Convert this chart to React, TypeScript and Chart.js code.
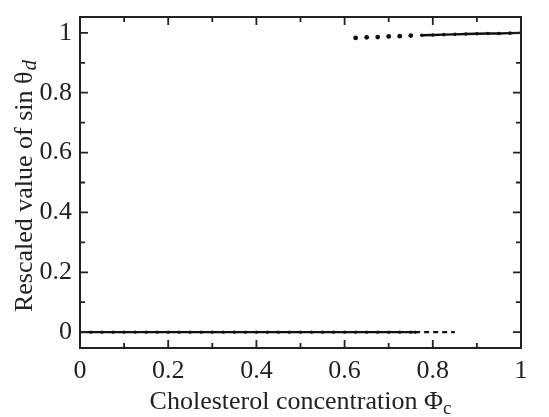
import { useEffect, useRef } from 'react';
import { Chart, registerables } from 'chart.js';
Chart.register(...registerables);

const lowerSolidX = [0, 0.025, 0.05, 0.075, 0.1, 0.125, 0.15, 0.175, 0.2, 0.225, 0.25, 0.275, 0.3, 0.325, 0.35, 0.375, 0.4, 0.425, 0.45, 0.475, 0.5, 0.525, 0.55, 0.575, 0.6, 0.625, 0.65, 0.675, 0.7, 0.725, 0.75, 0.76];
const lowerSolidY = [0, 0, 0, 0, 0, 0, 0, 0, 0, 0, 0, 0, 0, 0, 0, 0, 0, 0, 0, 0, 0, 0, 0, 0, 0, 0, 0, 0, 0, 0, 0, 0];
const lowerDashX = [0.76, 0.8, 0.85];
const lowerDashY = [0, 0, 0];
const upperDotX = [0.625, 0.65, 0.675, 0.7, 0.725, 0.75];
const upperDotY = [0.983, 0.985, 0.986, 0.988, 0.989, 0.991];
const upperSolidX = [0.775, 0.8, 0.825, 0.85, 0.875, 0.9, 0.925, 0.95, 0.975, 1.0];
const upperSolidY = [0.992, 0.993, 0.994, 0.995, 0.996, 0.997, 0.998, 0.998, 0.999, 1.0];
const xMajorTicks = [0, 0.2, 0.4, 0.6, 0.8, 1];
const yMajorTicks = [0, 0.2, 0.4, 0.6, 0.8, 1];
const xMinorTicks = [0.1, 0.3, 0.5, 0.7, 0.9];
const yMinorTicks = [0.1, 0.3, 0.5, 0.7, 0.9];

const FONT = '"Liberation Serif", "Times New Roman", serif';

const zip = (xs: number[], ys: number[]) => xs.map((x, i) => ({ x, y: ys[i] }));

const framePlugin = {
  id: 'frameTicks',
  afterDraw(chart: any) {
    const { ctx, chartArea } = chart;
    const { left, right, top, bottom } = chartArea;
    const xs = chart.scales.x;
    const ys = chart.scales.y;
    ctx.save();
    ctx.strokeStyle = '#222';
    ctx.lineWidth = 2;
    ctx.strokeRect(left, top, right - left, bottom - top);
    const major = 8, minor = 5;
    ctx.lineWidth = 1.8;
    ctx.beginPath();
    const xt = (v: number, len: number) => {
      const p = xs.getPixelForValue(v);
      ctx.moveTo(p, bottom); ctx.lineTo(p, bottom - len);
      ctx.moveTo(p, top); ctx.lineTo(p, top + len);
    };
    const yt = (v: number, len: number) => {
      const p = ys.getPixelForValue(v);
      ctx.moveTo(left, p); ctx.lineTo(left + len, p);
      ctx.moveTo(right, p); ctx.lineTo(right - len, p);
    };
    xMajorTicks.forEach(v => xt(v, major));
    xMinorTicks.forEach(v => xt(v, minor));
    yMajorTicks.forEach(v => yt(v, major));
    yMinorTicks.forEach(v => yt(v, minor));
    ctx.stroke();

    // x title
    ctx.fillStyle = '#222';
    ctx.textBaseline = 'alphabetic';
    ctx.textAlign = 'left';
    const main = 'Cholesterol concentration Φ';
    ctx.font = `26px ${FONT}`;
    const w1 = ctx.measureText(main).width;
    ctx.font = `19px ${FONT}`;
    const w2 = ctx.measureText('c').width;
    const cx = (left + right) / 2;
    const startX = cx - (w1 + w2) / 2;
    const baseY = 409;
    ctx.font = `26px ${FONT}`;
    ctx.fillText(main, startX, baseY);
    ctx.font = `19px ${FONT}`;
    ctx.fillText('c', startX + w1, baseY + 5);

    // y title
    ctx.save();
    const cy = (top + bottom) / 2 + 4;
    ctx.translate(32, cy);
    ctx.rotate(-Math.PI / 2);
    const ymain = 'Rescaled value of sin θ';
    ctx.font = `26px ${FONT}`;
    const yw1 = ctx.measureText(ymain).width;
    ctx.font = `italic 21px ${FONT}`;
    const yw2 = ctx.measureText('d').width;
    const sx = -(yw1 + yw2) / 2;
    ctx.font = `26px ${FONT}`;
    ctx.fillText(ymain, sx, 0);
    ctx.font = `italic 21px ${FONT}`;
    ctx.fillText('d', sx + yw1 + 1, 4);
    ctx.restore();

    ctx.restore();
  },
};

export default function App() {
  const ref = useRef<HTMLCanvasElement>(null);
  useEffect(() => {
    if (!ref.current) return;
    const chart = new Chart(ref.current, {
      type: 'scatter',
      data: {
        datasets: [
          {
            data: zip(lowerSolidX, lowerSolidY),
            showLine: true,
            borderColor: '#111',
            backgroundColor: '#111',
            borderWidth: 2.2,
            pointRadius: 1.7,
            pointBorderWidth: 0,
          },
          {
            data: zip(lowerDashX, lowerDashY),
            showLine: true,
            borderColor: '#111',
            borderWidth: 2.2,
            borderDash: [5, 4],
            pointRadius: 0,
          },
          {
            data: zip(upperDotX, upperDotY),
            showLine: false,
            backgroundColor: '#111',
            borderColor: '#111',
            pointRadius: 2.4,
            pointBorderWidth: 0,
          },
          {
            data: zip(upperSolidX, upperSolidY),
            showLine: true,
            borderColor: '#111',
            backgroundColor: '#111',
            borderWidth: 2.4,
            pointRadius: 1.8,
            pointBorderWidth: 0,
          },
        ],
      },
      options: {
        animation: false,
        responsive: false,
        events: [],
        layout: { padding: { top: 17, right: 28, left: 0, bottom: 0 } },
        plugins: { legend: { display: false }, tooltip: { enabled: false } },
        scales: {
          x: {
            type: 'linear',
            min: 0,
            max: 1,
            border: { display: false },
            grid: { display: false, drawTicks: false },
            afterBuildTicks: (s: any) => { s.ticks = xMajorTicks.map(v => ({ value: v })); },
            afterFit: (s: any) => { s.height = 69; s.paddingLeft = 0; s.paddingRight = 0; },
            ticks: {
              padding: 8,
              color: '#222',
              font: { family: FONT, size: 26 },
              callback: (v: any) => String(v),
              maxRotation: 0,
            },
          },
          y: {
            type: 'linear',
            min: -0.053,
            max: 1.053,
            border: { display: false },
            grid: { display: false, drawTicks: false },
            afterBuildTicks: (s: any) => { s.ticks = yMajorTicks.map(v => ({ value: v })); },
            afterFit: (s: any) => { s.width = 80; s.paddingTop = 0; s.paddingBottom = 0; },
            ticks: {
              padding: 8,
              color: '#222',
              font: { family: FONT, size: 26 },
              callback: (v: any) => String(v),
            },
          },
        },
      },
      plugins: [framePlugin],
    });
    return () => chart.destroy();
  }, []);
  return (
    <div style={{ position: 'fixed', left: 0, top: 0, width: 549, height: 417, background: '#fff' }}>
      <canvas ref={ref} width={549} height={417} />
    </div>
  );
}
